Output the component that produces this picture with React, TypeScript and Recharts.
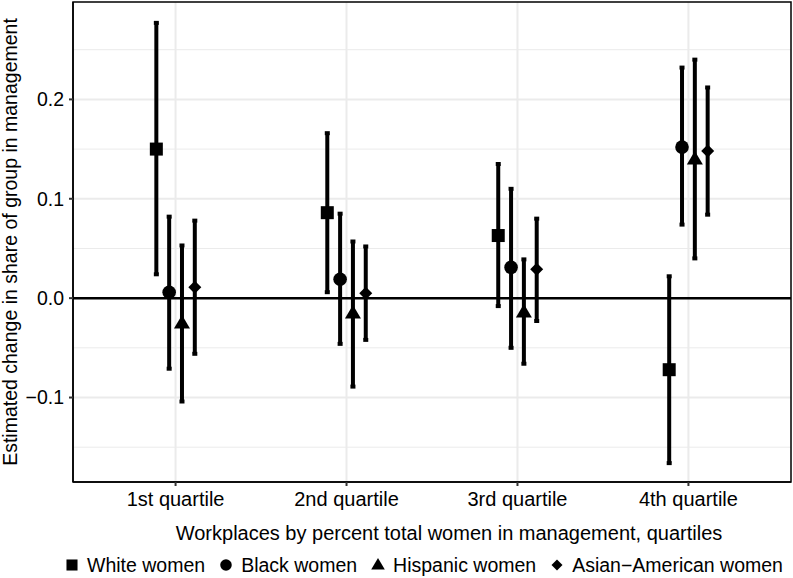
import { ScatterChart, Scatter, XAxis, YAxis, CartesianGrid, ReferenceLine, ReferenceArea, ErrorBar } from "recharts";

const QUARTILES = ["1st quartile", "2nd quartile", "3rd quartile", "4th quartile"];
const GROUPS = ["White women", "Black women", "Hispanic women", "Asian\u2212American women"];

const whiteEst = [0.15, 0.086, 0.063, -0.072];
const whiteLow = [0.024, 0.006, -0.008, -0.166];
const whiteHigh = [0.277, 0.166, 0.135, 0.022];

const blackEst = [0.006, 0.019, 0.031, 0.152];
const blackLow = [-0.071, -0.046, -0.05, 0.074];
const blackHigh = [0.082, 0.085, 0.11, 0.232];

const hispEst = [-0.025, -0.015, -0.014, 0.14];
const hispLow = [-0.104, -0.089, -0.066, 0.04];
const hispHigh = [0.053, 0.057, 0.039, 0.24];

const asianEst = [0.011, 0.005, 0.029, 0.148];
const asianLow = [-0.056, -0.042, -0.023, 0.084];
const asianHigh = [0.078, 0.052, 0.08, 0.212];

const Y_TICKS = [-0.1, 0, 0.1, 0.2];
const Y_MINOR = [-0.15, -0.05, 0.05, 0.15, 0.25];
const Y_DOMAIN = [-0.185, 0.298];
const X_DOMAIN = [0.4, 4.6];

// position_dodge(width = 0.3) over 4 groups
const DODGE = 0.3;
const offset = (g: number) => (g - 1.5) * (DODGE / 4);

const build = (est: number[], lo: number[], hi: number[], g: number) =>
  est.map((v, i) => ({
    x: i + 1 + offset(g),
    y: v,
    err: [v - lo[i], hi[i] - v],
  }));

const series = [
  { name: GROUPS[0], kind: "square", data: build(whiteEst, whiteLow, whiteHigh, 0) },
  { name: GROUPS[1], kind: "circle", data: build(blackEst, blackLow, blackHigh, 1) },
  { name: GROUPS[2], kind: "triangle", data: build(hispEst, hispLow, hispHigh, 2) },
  { name: GROUPS[3], kind: "diamond", data: build(asianEst, asianLow, asianHigh, 3) },
];

const FONT = "'Liberation Sans', Arial, Helvetica, sans-serif";

function Mark({ kind, cx, cy, s = 1 }: { kind: string; cx: number; cy: number; s?: number }) {
  if (kind === "square") {
    const h = 6.5 * s;
    return <rect x={cx - h} y={cy - h} width={2 * h} height={2 * h} fill="#000" />;
  }
  if (kind === "circle") return <circle cx={cx} cy={cy} r={6.8 * s} fill="#000" />;
  if (kind === "triangle") {
    const w = 8 * s;
    const h = 13.5 * s;
    return (
      <polygon
        points={`${cx},${cy - h * 0.6} ${cx - w},${cy + h * 0.4} ${cx + w},${cy + h * 0.4}`}
        fill="#000"
      />
    );
  }
  const d = 6.5 * s;
  return <polygon points={`${cx},${cy - d} ${cx + d},${cy} ${cx},${cy + d} ${cx - d},${cy}`} fill="#000" />;
}

function LegendIcon({ kind }: { kind: string }) {
  return (
    <svg width={14} height={14} style={{ marginRight: 8 }}>
      <Mark kind={kind} cx={7} cy={7} s={0.85} />
    </svg>
  );
}

export default function App() {
  return (
    <div style={{ position: "relative", width: 793, height: 578, background: "#fff", fontFamily: FONT }}>
      <style>{"body{margin:0}"}</style>
      <ScatterChart width={793} height={578} margin={{ top: 2, right: 2, left: 0, bottom: 0 }}>
        <CartesianGrid horizontalValues={Y_MINOR} vertical={false} stroke="#ebebeb" strokeWidth={1} />
        <CartesianGrid horizontalValues={Y_TICKS} verticalValues={[1, 2, 3, 4]} stroke="#ebebeb" strokeWidth={2} />
        <XAxis
          type="number"
          dataKey="x"
          domain={X_DOMAIN}
          ticks={[1, 2, 3, 4]}
          tickFormatter={(v: number) => QUARTILES[v - 1]}
          allowDataOverflow
          height={96}
          tickSize={4}
          tickMargin={6}
          axisLine={{ stroke: "#000", strokeWidth: 1.5 }}
          tickLine={{ stroke: "#333", strokeWidth: 2 }}
          tick={{ fill: "#000", fontSize: 20, fontFamily: FONT }}
          label={{
            value: "Workplaces by percent total women in management, quartiles",
            position: "insideBottom",
            offset: 38,
            dx: 17,
            fill: "#000",
            fontSize: 20,
            fontFamily: FONT,
          }}
        />
        <YAxis
          type="number"
          dataKey="y"
          domain={Y_DOMAIN}
          ticks={Y_TICKS}
          tickFormatter={(v: number) => (v === 0 ? "0.0" : v < 0 ? "\u2212" + Math.abs(v).toFixed(1) : v.toFixed(1))}
          allowDataOverflow
          width={73}
          tickSize={4}
          tickMargin={5}
          axisLine={{ stroke: "#000", strokeWidth: 1.5 }}
          tickLine={{ stroke: "#333", strokeWidth: 2 }}
          tick={{ fill: "#000", fontSize: 19.5, fontFamily: FONT }}
          label={{
            value: "Estimated change in share of group in management",
            angle: -90,
            position: "insideLeft",
            offset: 10,
            fill: "#000",
            fontSize: 19.5,
            fontFamily: FONT,
            style: { textAnchor: "middle" },
          }}
        />
        <ReferenceArea
          x1={X_DOMAIN[0]}
          x2={X_DOMAIN[1]}
          y1={Y_DOMAIN[0]}
          y2={Y_DOMAIN[1]}
          fill="none"
          fillOpacity={0}
          stroke="#000"
          strokeWidth={1.5}
          ifOverflow="visible"
        />
        <ReferenceLine y={0} stroke="#000" strokeWidth={2.5} />
        {series.map((s) => (
          <Scatter
            key={s.name}
            name={s.name}
            data={s.data}
            isAnimationActive={false}
            shape={(p: any) => <Mark kind={s.kind} cx={p.cx} cy={p.cy} />}
          >
            <ErrorBar dataKey="err" direction="y" width={2.5} strokeWidth={4} stroke="#000" isAnimationActive={false} />
          </Scatter>
        ))}
      </ScatterChart>
      <div
        style={{
          position: "absolute",
          left: 65,
          top: 555,
          height: 20,
          display: "flex",
          alignItems: "center",
          fontSize: 19.5,
          color: "#000",
          whiteSpace: "nowrap",
        }}
      >
        {series.map((s) => (
          <div key={s.name} style={{ display: "flex", alignItems: "center", marginRight: 14 }}>
            <LegendIcon kind={s.kind} />
            <span>{s.name}</span>
          </div>
        ))}
      </div>
    </div>
  );
}
